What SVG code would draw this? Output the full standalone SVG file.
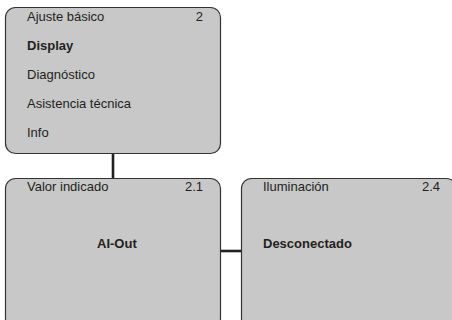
<svg xmlns="http://www.w3.org/2000/svg" width="452" height="320" viewBox="0 0 452 320">
<style>
.box{fill:#c8c8c8;stroke:#333;stroke-width:1.2}
.t{font-family:"Liberation Sans",Arial,sans-serif;font-size:13px;fill:#231f20}
.b{font-weight:bold}
.r{text-anchor:end}
.c{stroke:#231f20;stroke-width:2.6;fill:none}
</style>
<rect width="452" height="320" fill="#fff"/>
<g id="connectors">
<line class="c" x1="113" y1="153" x2="113" y2="178"/>
<line class="c" x1="220" y1="251" x2="241" y2="251"/>
</g>
<g id="menu">
<rect class="box" x="5.5" y="7.5" width="215" height="146" rx="10"/>
<text class="t" x="27" y="21">Ajuste básico</text>
<text class="t r" x="203" y="21">2</text>
<text class="t b" x="27" y="50">Display</text>
<text class="t" x="27" y="79">Diagnóstico</text>
<text class="t" x="27" y="108">Asistencia técnica</text>
<text class="t" x="27" y="137">Info</text>
</g>
<g id="valor">
<rect class="box" x="5.5" y="178.5" width="215" height="150" rx="10"/>
<text class="t" x="27" y="191">Valor indicado</text>
<text class="t r" x="203" y="191">2.1</text>
<text class="t b" x="97" y="248">AI-Out</text>
</g>
<g id="iluminacion">
<rect class="box" x="241.5" y="178.5" width="215" height="150" rx="10"/>
<text class="t" x="263" y="191">Iluminación</text>
<text class="t r" x="440" y="191">2.4</text>
<text class="t b" x="263" y="248">Desconectado</text>
</g>
</svg>
